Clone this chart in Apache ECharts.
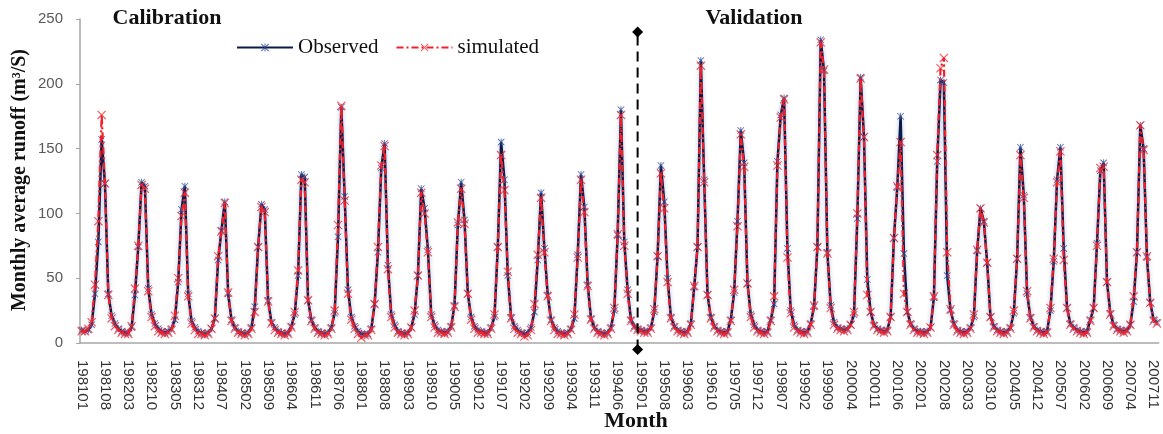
<!DOCTYPE html>
<html><head><meta charset="utf-8">
<script src="https://cdn.jsdelivr.net/npm/echarts@6/dist/echarts.min.js"></script>
<style>html,body{margin:0;padding:0;background:#fff}#c{width:1163px;height:434px}</style>
</head><body><div id="c"></div>
<script>
// Category labels: months 198101 .. 200712
const startYear = 1981, endYear = 2007;
const months = [];
for (let y = startYear; y <= endYear; y++) {
  for (let m = 1; m <= 12; m++) months.push(String(y) + (m < 10 ? '0' + m : String(m)));
}

// Observed monthly average runoff (m3/s), one row per year
const observed = [
  10, 9, 10, 14, 38, 78, 157, 123, 38, 21, 15, 11,
  9, 8, 8, 12, 37, 74, 124, 121, 42, 22, 15, 11,
  9, 8, 9, 11, 18, 47, 103, 121, 38, 17, 12, 9,
  8, 7, 8, 11, 19, 64, 87, 109, 38, 18, 12, 9,
  8, 7, 8, 12, 28, 74, 107, 103, 33, 16, 12, 9,
  8, 7, 8, 13, 22, 52, 130, 128, 33, 18, 12, 9,
  8, 7, 8, 12, 23, 82, 182, 113, 41, 20, 13, 9,
  7, 7, 7, 11, 30, 70, 135, 154, 60, 22, 14, 9,
  8, 7, 8, 12, 22, 52, 119, 104, 72, 22, 14, 10,
  9, 8, 9, 13, 29, 91, 124, 95, 38, 20, 13, 10,
  9, 8, 8, 12, 20, 74, 155, 126, 52, 20, 13, 10,
  8, 7, 8, 12, 24, 64, 116, 73, 37, 18, 12, 9,
  8, 7, 8, 11, 19, 68, 130, 105, 45, 19, 12, 9,
  8, 7, 8, 12, 25, 83, 180, 78, 41, 18, 13, 11,
  10, 9, 9, 12, 24, 67, 137, 109, 50, 20, 13, 10,
  9, 8, 9, 15, 43, 74, 218, 126, 37, 20, 13, 10,
  9, 8, 9, 18, 39, 94, 164, 139, 46, 22, 14, 10,
  9, 8, 9, 18, 30, 140, 176, 189, 73, 25, 14, 10,
  9, 8, 9, 15, 28, 74, 234, 210, 70, 29, 16, 12,
  11, 10, 11, 14, 22, 96, 205, 159, 49, 24, 14, 11,
  10, 9, 10, 20, 81, 120, 175, 69, 24, 15, 11, 9,
  9, 8, 9, 12, 35, 140, 203, 201, 52, 25, 15, 10,
  9, 8, 9, 12, 20, 71, 104, 94, 62, 20, 13, 10,
  9, 8, 9, 12, 23, 65, 151, 114, 38, 20, 13, 10,
  9, 8, 9, 25, 63, 126, 151, 73, 27, 15, 12, 10,
  9, 8, 9, 18, 27, 77, 133, 139, 47, 23, 14, 11,
  10, 9, 10, 14, 32, 70, 168, 150, 66, 31, 18, 16
];

// Simulated monthly average runoff (m3/s), one row per year
const simulated = [
  9, 9, 11, 16, 45, 94, 176, 123, 37, 19, 13, 10,
  8, 7, 7, 13, 42, 75, 122, 119, 40, 20, 13, 9,
  8, 7, 8, 10, 21, 50, 98, 116, 36, 15, 10, 7,
  7, 6, 7, 11, 19, 67, 86, 108, 39, 17, 11, 8,
  7, 6, 7, 11, 24, 74, 105, 101, 32, 15, 10, 8,
  7, 6, 7, 12, 24, 56, 126, 124, 33, 17, 11, 8,
  7, 6, 7, 11, 25, 91, 183, 110, 38, 18, 11, 7,
  4, 6, 6, 10, 30, 74, 137, 152, 57, 20, 12, 8,
  7, 6, 7, 12, 25, 52, 116, 100, 70, 20, 12, 8,
  8, 7, 8, 12, 28, 93, 119, 92, 38, 18, 11, 8,
  8, 7, 7, 11, 22, 74, 145, 118, 55, 19, 11, 8,
  7, 5, 6, 10, 30, 68, 112, 70, 36, 17, 10, 7,
  7, 6, 7, 10, 22, 66, 126, 101, 44, 18, 11, 8,
  7, 6, 7, 11, 27, 84, 176, 75, 38, 17, 12, 10,
  9, 8, 8, 11, 26, 67, 131, 104, 47, 19, 12, 9,
  8, 7, 8, 14, 44, 74, 214, 124, 37, 19, 12, 9,
  8, 7, 8, 17, 41, 90, 161, 136, 46, 20, 12, 9,
  8, 7, 8, 17, 36, 137, 174, 188, 66, 23, 12, 9,
  8, 7, 8, 14, 29, 74, 232, 211, 69, 27, 14, 11,
  10, 9, 10, 14, 24, 100, 204, 159, 37, 24, 13, 10,
  9, 8, 9, 20, 81, 121, 155, 38, 24, 14, 10, 8,
  8, 7, 8, 12, 36, 145, 212, 220, 70, 26, 14, 9,
  8, 7, 8, 11, 22, 72, 104, 93, 62, 20, 12, 9,
  8, 7, 8, 11, 25, 65, 145, 112, 40, 19, 12, 9,
  8, 7, 8, 27, 65, 124, 148, 64, 27, 14, 11, 9,
  8, 7, 8, 17, 27, 75, 135, 136, 47, 22, 13, 10,
  9, 8, 9, 14, 36, 70, 168, 149, 67, 31, 17, 15
];

// Axis settings
const yMin = 0, yMax = 250, yInterval = 50;
// Calibration / validation divider
const dividerMonth = '199412';
const dividerRange = [-5, 240];

const starPath = 'path://M4.4,0 L5.6,0 L5.6,10 L4.4,10 Z M0,0.8 L0.8,0 L10,9.2 L9.2,10 Z M9.2,0 L10,0.8 L0.8,10 L0,9.2 Z';
const crossPath = 'path://M0,0.9 L0.9,0 L10,9.1 L9.1,10 Z M9.1,0 L10,0.9 L0.9,10 L0,9.1 Z';

const chart = echarts.init(document.getElementById('c'), null, {renderer: 'canvas'});
const serif = '"Liberation Serif", "Times New Roman", serif';
const sans = '"Liberation Sans", Arial, sans-serif';

chart.setOption({
  animation: false,
  backgroundColor: '#fff',
  grid: {left: 80, right: 4.4, top: 19, bottom: 91, containLabel: false},
  legend: {
    data: ['Observed', 'simulated'],
    left: 231, top: 32,
    itemWidth: 56, itemHeight: 10, itemGap: 17,
    textStyle: {fontFamily: serif, fontSize: 21, color: '#111'}
  },
  xAxis: {
    type: 'category', data: months, boundaryGap: true,
    axisLine: {lineStyle: {color: '#a6a6a6', width: 1.5}},
    axisTick: {show: false},
    splitLine: {show: false},
    axisLabel: {interval: 6, rotate: -90, fontSize: 15, color: '#333', fontFamily: sans, margin: 17}
  },
  yAxis: {
    type: 'value', min: yMin, max: yMax, interval: yInterval,
    axisLine: {show: true, lineStyle: {color: '#a6a6a6', width: 1.5}},
    axisTick: {show: true, length: 4, lineStyle: {color: '#a6a6a6'}},
    splitLine: {show: false},
    axisLabel: {fontSize: 15, color: '#595959', fontFamily: sans, margin: 17}
  },
  series: [
    {
      name: 'Observed', type: 'line', data: observed,
      symbol: starPath, symbolSize: 7, showAllSymbol: true,
      itemStyle: {color: 'rgba(45,75,150,0.85)'},
      lineStyle: {color: '#0c1c4a', width: 2.5, shadowColor: 'rgba(40,70,150,0.35)', shadowBlur: 4},
      z: 2
    },
    {
      name: 'simulated', type: 'line', data: simulated,
      symbol: crossPath, symbolSize: 9, showAllSymbol: true,
      itemStyle: {color: 'rgba(240,35,45,0.75)'},
      lineStyle: {color: '#f0202a', width: 2.2, type: [7, 3, 2, 3]},
      z: 3
    },
    {
      name: 'divider', type: 'line', clip: false, silent: true,
      data: [[dividerMonth, dividerRange[0]], [dividerMonth, dividerRange[1]]],
      symbol: 'diamond', symbolSize: 11, showAllSymbol: true, showSymbol: true,
      itemStyle: {color: '#000'},
      lineStyle: {color: '#000', width: 2, type: [10, 6]},
      z: 4
    }
  ],
  graphic: [
    {type: 'text', x: 167, y: 18, style: {text: 'Calibration', font: 'bold 22px ' + serif, fill: '#111', align: 'center', verticalAlign: 'middle'}},
    {type: 'text', x: 754, y: 18, style: {text: 'Validation', font: 'bold 22px ' + serif, fill: '#111', align: 'center', verticalAlign: 'middle'}},
    {type: 'text', x: 20, y: 180, rotation: Math.PI / 2, style: {text: 'Monthly average runoff (m³/S)', font: 'bold 20px ' + serif, fill: '#111', align: 'center', verticalAlign: 'middle'}},
    {type: 'text', x: 636, y: 421, style: {text: 'Month', font: 'bold 22px ' + serif, fill: '#111', align: 'center', verticalAlign: 'middle'}}
  ]
});
</script>
</body></html>
